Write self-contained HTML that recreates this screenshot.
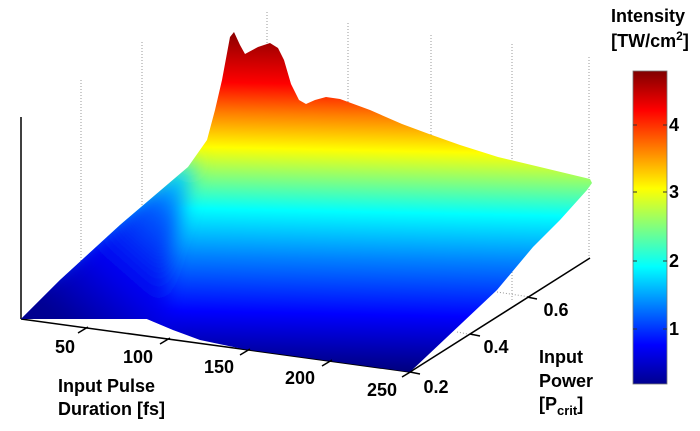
<!DOCTYPE html>
<html><head><meta charset="utf-8"><style>
html,body{margin:0;padding:0;background:#fff;}
svg{display:block;}
text{font-family:"Liberation Sans",Arial,sans-serif;font-weight:bold;fill:#000;}
</style></head><body>
<svg width="700" height="431" viewBox="0 0 700 431" xmlns="http://www.w3.org/2000/svg">
<defs>
<linearGradient id="jet" gradientUnits="userSpaceOnUse" x1="330" y1="372" x2="337" y2="30">
<stop offset="0" stop-color="#00007a"/>
<stop offset="0.17" stop-color="#0000ff"/>
<stop offset="0.33" stop-color="#0080ff"/>
<stop offset="0.47" stop-color="#00ffff"/>
<stop offset="0.56" stop-color="#80ff80"/>
<stop offset="0.65" stop-color="#ffff00"/>
<stop offset="0.75" stop-color="#ff8000"/>
<stop offset="0.84" stop-color="#ff0000"/>
<stop offset="1" stop-color="#800000"/>
</linearGradient>
<linearGradient id="left" gradientUnits="userSpaceOnUse" x1="60" y1="320" x2="200" y2="160">
<stop offset="0" stop-color="#000090"/>
<stop offset="0.35" stop-color="#0000f0"/>
<stop offset="0.7" stop-color="#0060ff"/>
<stop offset="0.9" stop-color="#00e0ff"/>
<stop offset="1" stop-color="#80ff80"/>
</linearGradient>
<linearGradient id="cb" x1="0" y1="1" x2="0" y2="0">
<stop offset="0" stop-color="#00008f"/>
<stop offset="0.125" stop-color="#0000ff"/>
<stop offset="0.375" stop-color="#00ffff"/>
<stop offset="0.625" stop-color="#ffff00"/>
<stop offset="0.875" stop-color="#ff0000"/>
<stop offset="1" stop-color="#800000"/>
</linearGradient>
<clipPath id="surf"><path d="M21,319 L60,280 L120,225 L188,167 L207,140 L215,110 L222,80 L230,37 L234,32 L240,45 L245,54 L258,47 L270,43 L278,48 L284,60 L291,84 L299,100 L306,104 L315,100 L326,97 L340,99 L370,110 L402,124 L429,134 L460,145 L498,157 L540,167 L590,179 L592,183 L587,190 L560,220 L533,247 L497,290 L410,372 L243,349 L200,340 L173,330 L147,319 Z"/></clipPath>
<filter id="bl" x="-20%" y="-20%" width="140%" height="140%"><feGaussianBlur stdDeviation="9"/></filter>
</defs>
<g stroke="#999" stroke-width="1" stroke-dasharray="1,2">
<line x1="81" y1="80" x2="81" y2="320"/>
<line x1="142" y1="42" x2="142" y2="320"/>
<line x1="267" y1="12" x2="267" y2="300"/>
<line x1="348" y1="23" x2="348" y2="300"/>
<line x1="431" y1="35" x2="431" y2="300"/>
<line x1="512" y1="44" x2="512" y2="300"/>
<line x1="589" y1="57" x2="589" y2="258"/>
<line x1="497" y1="292" x2="530" y2="297"/>
<line x1="457" y1="332" x2="473" y2="335"/>
</g>
<line x1="21" y1="117" x2="21" y2="319" stroke="#000" stroke-width="1.5"/>
<line x1="21" y1="319" x2="410" y2="372" stroke="#000" stroke-width="1.5"/>
<line x1="410" y1="372" x2="590" y2="258" stroke="#000" stroke-width="1.5"/>
<g clip-path="url(#surf)">
<rect x="0" y="0" width="700" height="431" fill="url(#jet)"/>
<path fill="url(#left)" filter="url(#bl)" d="M0,340 L0,300 L60,270 L120,215 L188,160 L196,160 L185,200 L172,250 L165,300 L173,340 Z"/>
</g>
<g stroke="#000" stroke-width="1.5">
<line x1="78" y1="333" x2="88" y2="327"/>
<line x1="160" y1="344" x2="170" y2="338"/>
<line x1="240" y1="355" x2="250" y2="349"/>
<line x1="322" y1="366" x2="332" y2="360"/>
<line x1="402" y1="377" x2="412" y2="371"/>
<line x1="410" y1="372" x2="420" y2="374"/>
<line x1="470" y1="334" x2="480" y2="336"/>
<line x1="527" y1="297" x2="537" y2="299"/>
</g>
<g font-size="18" text-anchor="middle">
<text x="65" y="353">50</text>
<text x="138" y="363">100</text>
<text x="219" y="373">150</text>
<text x="300" y="384">200</text>
<text x="382" y="396">250</text>
<text x="436" y="393">0.2</text>
<text x="496" y="353">0.4</text>
<text x="556" y="316">0.6</text>
</g>
<g font-size="18">
<text x="58" y="392">Input Pulse</text>
<text x="58" y="415">Duration [fs]</text>
<text x="539" y="363">Input</text>
<text x="539" y="387">Power</text>
<text x="539" y="410">[P<tspan font-size="13" dy="5">crit</tspan><tspan dy="-5">]</tspan></text>
<text x="648" y="22" text-anchor="middle">Intensity</text>
<text x="650" y="47" text-anchor="middle">[TW/cm<tspan font-size="12" dy="-7">2</tspan><tspan dy="7">]</tspan></text>
</g>
<rect x="633" y="71" width="34" height="313" fill="url(#cb)" stroke="#777" stroke-width="0.8"/>
<g stroke="#333" stroke-width="1">
<line x1="633" y1="125" x2="637" y2="125"/><line x1="663" y1="125" x2="667" y2="125"/>
<line x1="633" y1="192" x2="637" y2="192"/><line x1="663" y1="192" x2="667" y2="192"/>
<line x1="633" y1="261" x2="637" y2="261"/><line x1="663" y1="261" x2="667" y2="261"/>
<line x1="633" y1="329" x2="637" y2="329"/><line x1="663" y1="329" x2="667" y2="329"/>
</g>
<g font-size="18">
<text x="669" y="131">4</text>
<text x="669" y="198">3</text>
<text x="669" y="267">2</text>
<text x="669" y="335">1</text>
</g>
</svg>
</body></html>
